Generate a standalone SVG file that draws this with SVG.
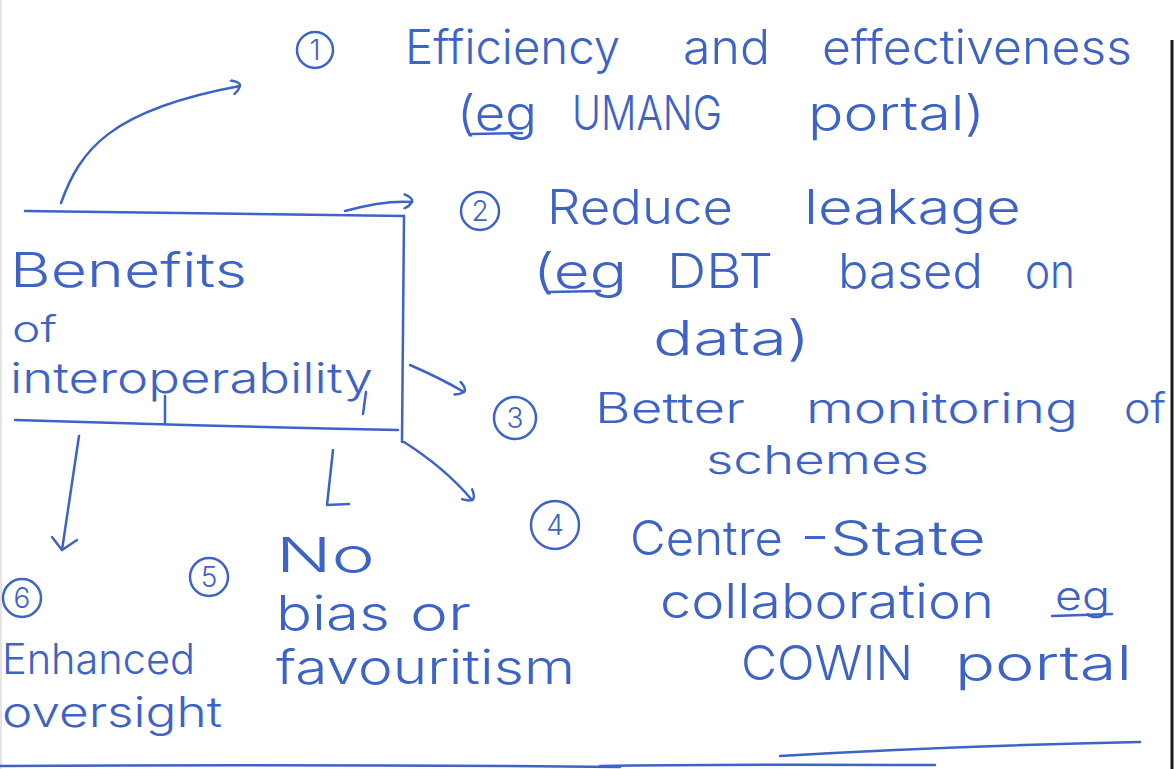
<svg xmlns="http://www.w3.org/2000/svg" width="1176" height="769" viewBox="0 0 1176 769">
<defs>
<style>
.ink{fill:none;stroke:#3d63c6;stroke-width:2.5;stroke-linecap:round;stroke-linejoin:round}
.t{font-family:"Inter","Lato","Open Sans","Liberation Sans",sans-serif;font-weight:300;font-size:48px;fill:#3d63c6}
.s{font-size:40px}
.m{font-size:42px}
.xs{font-size:36px}
.num{font-family:"Inter","Lato","Liberation Sans",sans-serif;font-weight:300;font-size:28px;fill:#3d63c6;text-anchor:middle}
</style>
<marker id="hook" viewBox="0 0 12 16" refX="10" refY="8" markerWidth="12" markerHeight="16" markerUnits="userSpaceOnUse" orient="auto">
<path d="M2,1 Q11,4 10,8 Q8,12 3,15" fill="none" stroke="#3d63c6" stroke-width="2.5" stroke-linecap="round"/>
</marker>
</defs>
<rect x="0" y="0" width="1176" height="769" fill="#ffffff"/>
<line x1="1" y1="0" x2="1" y2="769" stroke="#e4e4e4" stroke-width="2"/>
<line x1="1172" y1="40" x2="1172" y2="769" stroke="#1a1a1a" stroke-width="3"/>
<g id="node-benefits">
<path class="ink" d="M25,211 L404,216"/>
<path class="ink" d="M404,216 L402,442"/>
<path class="ink" d="M15,420 Q200,426 398,430"/>
<path class="ink" d="M165,396 L165,424"/>
<path class="ink" d="M366,392 L363,414"/>
<text class="t" x="10" y="287" textLength="237" lengthAdjust="spacingAndGlyphs">Benefits</text>
<text class="t xs" x="12" y="342" textLength="45" lengthAdjust="spacingAndGlyphs">of</text>
<text class="t m" x="10" y="393" textLength="363" lengthAdjust="spacingAndGlyphs">interoperability</text>
</g>
<g id="node-1">
<circle class="ink" cx="315" cy="50" r="18"/>
<text class="num" x="315" y="60">1</text>
<text class="t" x="405" y="64" textLength="215" lengthAdjust="spacingAndGlyphs">Efficiency</text>
<text class="t" x="683" y="64" textLength="87" lengthAdjust="spacingAndGlyphs">and</text>
<text class="t" x="822" y="64" textLength="310" lengthAdjust="spacingAndGlyphs">effectiveness</text>
<text class="t" x="457" y="130" textLength="80" lengthAdjust="spacingAndGlyphs">(eg</text>
<path class="ink" d="M472,134 L522,133"/>
<text class="t" x="572" y="130" textLength="150" lengthAdjust="spacingAndGlyphs">UMANG</text>
<text class="t" x="808" y="130" textLength="177" lengthAdjust="spacingAndGlyphs">portal)</text>
</g>
<g id="node-2">
<circle class="ink" cx="480" cy="211" r="19"/>
<text class="num" x="480" y="221">2</text>
<text class="t" x="547" y="224" textLength="186" lengthAdjust="spacingAndGlyphs">Reduce</text>
<text class="t" x="804" y="224" textLength="217" lengthAdjust="spacingAndGlyphs">leakage</text>
<text class="t" x="533" y="288" textLength="94" lengthAdjust="spacingAndGlyphs">(eg</text>
<path class="ink" d="M548,292 L600,291"/>
<text class="t" x="667" y="288" textLength="106" lengthAdjust="spacingAndGlyphs">DBT</text>
<text class="t" x="838" y="288" textLength="145" lengthAdjust="spacingAndGlyphs">based</text>
<text class="t" x="1025" y="288" textLength="50" lengthAdjust="spacingAndGlyphs">on</text>
<text class="t" x="653" y="355" textLength="157" lengthAdjust="spacingAndGlyphs">data)</text>
</g>
<g id="node-3">
<circle class="ink" cx="515" cy="418" r="21"/>
<text class="num" x="515" y="428">3</text>
<text class="t m" x="595" y="423" textLength="150" lengthAdjust="spacingAndGlyphs">Better</text>
<text class="t m" x="806" y="423" textLength="272" lengthAdjust="spacingAndGlyphs">monitoring</text>
<text class="t m" x="1124" y="423" textLength="42" lengthAdjust="spacingAndGlyphs">of</text>
<text class="t s" x="706" y="474" textLength="223" lengthAdjust="spacingAndGlyphs">schemes</text>
</g>
<g id="node-4">
<circle class="ink" cx="555" cy="525" r="24"/>
<text class="num" x="555" y="535">4</text>
<text class="t" x="630" y="555" textLength="153" lengthAdjust="spacingAndGlyphs">Centre</text>
<text class="t" x="800" y="555" textLength="186" lengthAdjust="spacingAndGlyphs">-State</text>
<text class="t" x="660" y="618" textLength="334" lengthAdjust="spacingAndGlyphs">collaboration</text>
<text class="t s" x="1055" y="610" textLength="55" lengthAdjust="spacingAndGlyphs">eg</text>
<path class="ink" d="M1052,616 L1112,614"/>
<text class="t" x="741" y="680" textLength="172" lengthAdjust="spacingAndGlyphs">COWIN</text>
<text class="t" x="955" y="680" textLength="177" lengthAdjust="spacingAndGlyphs">portal</text>
</g>
<g id="node-5">
<circle class="ink" cx="209" cy="577" r="19"/>
<text class="num" x="209" y="587">5</text>
<text class="t" x="276" y="572" textLength="99" lengthAdjust="spacingAndGlyphs">No</text>
<text class="t" x="276" y="630" textLength="114" lengthAdjust="spacingAndGlyphs">bias</text>
<text class="t" x="410" y="630" textLength="61" lengthAdjust="spacingAndGlyphs">or</text>
<text class="t" x="276" y="684" textLength="299" lengthAdjust="spacingAndGlyphs">favouritism</text>
</g>
<g id="node-6">
<circle class="ink" cx="22" cy="598" r="19"/>
<text class="num" x="22" y="608">6</text>
<text class="t m" x="2" y="674" textLength="193" lengthAdjust="spacingAndGlyphs">Enhanced</text>
<text class="t m" x="2" y="727" textLength="220" lengthAdjust="spacingAndGlyphs">oversight</text>
</g>
<g id="connectors">
<path class="ink" d="M61,203 C80,150 110,110 240,86" marker-end="url(#hook)"/>
<path class="ink" d="M345,211 Q385,200 412,202" marker-end="url(#hook)"/>
<path class="ink" d="M410,365 Q440,378 464,392" marker-end="url(#hook)"/>
<path class="ink" d="M404,442 Q445,468 472,500" marker-end="url(#hook)"/>
<path class="ink" d="M333,450 L327,505 L349,504"/>
<path class="ink" d="M79,436 L62,550"/>
<path class="ink" d="M52,537 L62,550 L77,540"/>
</g>
<g id="bottom-lines">
<path class="ink" d="M0,766 Q300,764 620,767"/>
<path class="ink" d="M780,756 Q950,746 1140,742"/>
<path class="ink" d="M600,766 Q700,764 935,765"/>
</g>
</svg>
